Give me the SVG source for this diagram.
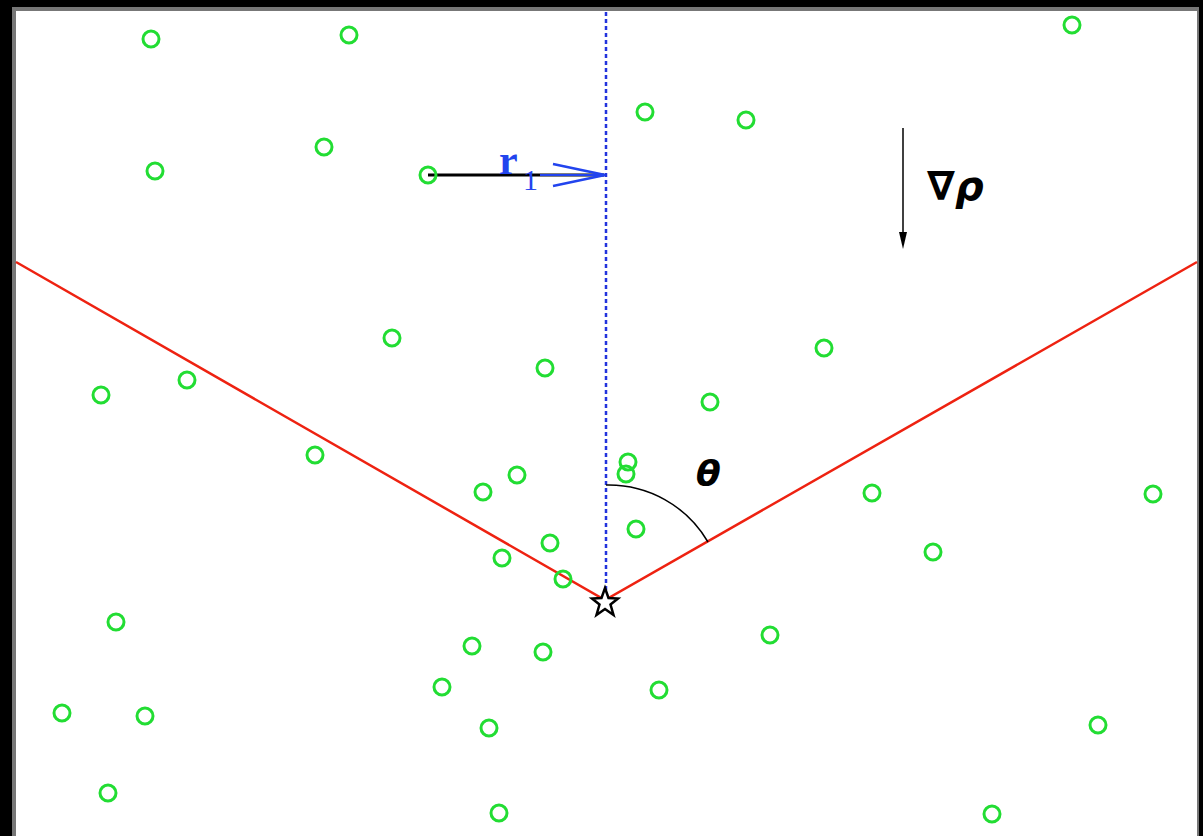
<svg xmlns="http://www.w3.org/2000/svg" width="1203" height="836" viewBox="0 0 1203 836">
<style>
.pt{fill:none;stroke:#22dd33;stroke-width:3}
.ray{stroke:#ee2211;stroke-width:2.5;fill:none}
.axis{stroke:#2233dd;stroke-width:2.5;stroke-dasharray:4 3;fill:none}
</style>
<rect x="0" y="0" width="1203" height="836" fill="#000"/>
<rect x="12" y="7" width="1187" height="835" fill="#777"/>
<rect x="16" y="11" width="1181" height="830" fill="#fff"/>
<g id="connectors">
<line class="axis" x1="606" y1="12" x2="606" y2="598"/>
<polyline class="ray" points="16,262 605,600 1197,262"/>
<path d="M606,485 A115,115 0 0 1 708,542" fill="none" stroke="#000" stroke-width="1.5"/>
<line x1="428" y1="175" x2="604" y2="175" stroke="#000" stroke-width="3"/>
<line x1="540" y1="175" x2="604" y2="175" stroke="#2244ee" stroke-width="2"/>
<polyline points="553,164 605,175 553,186" fill="none" stroke="#2244ee" stroke-width="2.5"/>
<line x1="903" y1="128" x2="903" y2="236" stroke="#000" stroke-width="1.5"/>
<path d="M899,232 L903,249 L907,232 Z" fill="#000"/>
</g>
<g id="labels">
<text x="499" y="174" font-family="Liberation Serif, serif" font-size="42" font-weight="bold" fill="#2244ee">r</text>
<text x="523" y="190" font-family="Liberation Serif, serif" font-size="30" fill="#2244ee">1</text>
<text x="927" y="200" font-family="DejaVu Sans, sans-serif" font-size="40" font-weight="bold" fill="#000">∇<tspan font-style="italic">ρ</tspan></text>
<text x="696" y="486" font-family="DejaVu Sans, sans-serif" font-size="36" font-style="italic" font-weight="bold" fill="#000">θ</text>
</g>
<g id="star">
<path d="M605,588 L608.5,598 L618,598.5 L610.5,604.5 L613.5,615 L605,609 L596.5,615 L599.5,604.5 L592,598.5 L601.5,598 Z" fill="#fff" stroke="#000" stroke-width="2.5"/>
</g>
<g id="points">
<circle class="pt" cx="151" cy="39" r="8"/>
<circle class="pt" cx="349" cy="35" r="8"/>
<circle class="pt" cx="1072" cy="25" r="8"/>
<circle class="pt" cx="645" cy="112" r="8"/>
<circle class="pt" cx="746" cy="120" r="8"/>
<circle class="pt" cx="324" cy="147" r="8"/>
<circle class="pt" cx="155" cy="171" r="8"/>
<circle class="pt" cx="428" cy="175" r="8"/>
<circle class="pt" cx="392" cy="338" r="8"/>
<circle class="pt" cx="824" cy="348" r="8"/>
<circle class="pt" cx="545" cy="368" r="8"/>
<circle class="pt" cx="101" cy="395" r="8"/>
<circle class="pt" cx="187" cy="380" r="8"/>
<circle class="pt" cx="710" cy="402" r="8"/>
<circle class="pt" cx="315" cy="455" r="8"/>
<circle class="pt" cx="628" cy="462" r="8"/>
<circle class="pt" cx="626" cy="474" r="8"/>
<circle class="pt" cx="517" cy="475" r="8"/>
<circle class="pt" cx="483" cy="492" r="8"/>
<circle class="pt" cx="872" cy="493" r="8"/>
<circle class="pt" cx="1153" cy="494" r="8"/>
<circle class="pt" cx="636" cy="529" r="8"/>
<circle class="pt" cx="550" cy="543" r="8"/>
<circle class="pt" cx="502" cy="558" r="8"/>
<circle class="pt" cx="933" cy="552" r="8"/>
<circle class="pt" cx="563" cy="579" r="8"/>
<circle class="pt" cx="116" cy="622" r="8"/>
<circle class="pt" cx="770" cy="635" r="8"/>
<circle class="pt" cx="472" cy="646" r="8"/>
<circle class="pt" cx="543" cy="652" r="8"/>
<circle class="pt" cx="442" cy="687" r="8"/>
<circle class="pt" cx="659" cy="690" r="8"/>
<circle class="pt" cx="62" cy="713" r="8"/>
<circle class="pt" cx="145" cy="716" r="8"/>
<circle class="pt" cx="489" cy="728" r="8"/>
<circle class="pt" cx="1098" cy="725" r="8"/>
<circle class="pt" cx="108" cy="793" r="8"/>
<circle class="pt" cx="499" cy="813" r="8"/>
<circle class="pt" cx="992" cy="814" r="8"/>
</g>
</svg>
